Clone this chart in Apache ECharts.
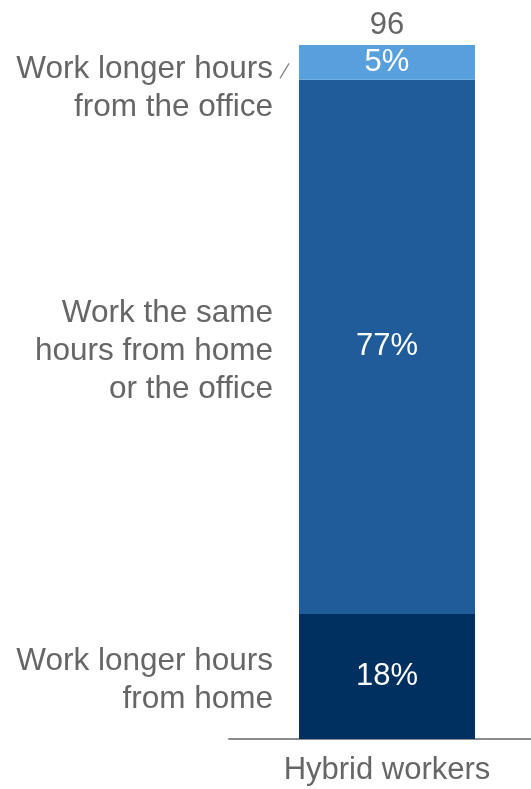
<!DOCTYPE html>
<html>
<head>
<meta charset="utf-8">
<script src="https://cdn.jsdelivr.net/npm/echarts@6/dist/echarts.min.js"></script>
<style>
  html, body { margin: 0; padding: 0; background: #fff; }
  #chart { width: 531px; height: 789px; }
</style>
</head>
<body>
<div id="chart"></div>
<script>
// Working-hours split for hybrid workers (share of respondents, %)
const categories = ['Hybrid workers'];
const sampleSizes = ['96'];
const segmentNames = [
  'Work longer hours\nfrom home',
  'Work the same\nhours from home\nor the office',
  'Work longer hours\nfrom the office'
];
const fromHome = [18];
const sameHours = [77];
const fromOffice = [5];

const segmentValues = [fromHome, sameHours, fromOffice];
const segmentColors = ['#00305f', '#1f5c99', '#579fdd'];
const FONT = "'Liberation Sans', Arial, Helvetica, sans-serif";
const GREY = '#666666';
const BAR_W = 176;
const FS = 31;

const chart = echarts.init(document.getElementById('chart'), null, { renderer: 'canvas' });

const series = [];
// visible stacked bars with the percentage inside each segment
segmentValues.forEach((vals, i) => {
  series.push({
    type: 'bar',
    name: segmentNames[i],
    stack: 'share',
    barWidth: BAR_W,
    barGap: '-100%',
    data: vals,
    itemStyle: { color: segmentColors[i], borderWidth: 0 },
    label: {
      show: true,
      position: 'inside',
      formatter: '{c}%',
      color: '#ffffff',
      fontFamily: FONT,
      fontSize: FS
    },
    silent: true
  });
});
// transparent twin stack carrying the segment names on the left
segmentValues.forEach((vals, i) => {
  series.push({
    type: 'bar',
    name: segmentNames[i] + ' ',
    stack: 'names',
    barWidth: BAR_W,
    barGap: '-100%',
    data: vals,
    itemStyle: { color: 'rgba(0,0,0,0)' },
    label: {
      show: true,
      position: 'left',
      distance: 26,
      offset: i === 2 ? [0, 26] : [0, 4],
      formatter: segmentNames[i],
      align: 'right',
      color: GREY,
      fontFamily: FONT,
      fontSize: 31.5,
      lineHeight: 38
    },
    silent: true
  });
});

chart.setOption({
  animation: false,
  backgroundColor: '#ffffff',
  grid: [
    { left: 243, right: 0, top: 45, bottom: 50, containLabel: false },
    // wider baseline running under the bar area
    { left: 229, right: 0, top: 45, bottom: 50, containLabel: false }
  ],
  xAxis: [
    {
      type: 'category',
      gridIndex: 0,
      data: categories,
      axisLine: { show: false },
      axisTick: { show: false },
      axisLabel: { color: GREY, fontFamily: FONT, fontSize: FS, margin: 16 }
    },
    {
      type: 'category',
      gridIndex: 0,
      position: 'top',
      data: sampleSizes,
      axisLine: { show: false },
      axisTick: { show: false },
      axisLabel: { color: GREY, fontFamily: FONT, fontSize: FS, margin: 4 }
    },
    {
      type: 'category',
      gridIndex: 1,
      data: categories,
      axisLine: { show: true, lineStyle: { color: '#8c8c8c', width: 2 } },
      axisTick: { show: false },
      axisLabel: { show: false }
    }
  ],
  yAxis: [
    { type: 'value', gridIndex: 0, min: 0, max: 100, show: false },
    { type: 'value', gridIndex: 1, min: 0, max: 100, show: false }
  ],
  series: series
});

// short leader stroke beside the top segment's name
const topMid = chart.convertToPixel({ xAxisIndex: 0, yAxisIndex: 0 },
  [0, fromHome[0] + sameHours[0] + fromOffice[0] / 2]);
const barLeft = topMid[0] - BAR_W / 2;
chart.setOption({
  graphic: [{
    type: 'line',
    shape: { x1: barLeft - 19, y1: topMid[1] + 16, x2: barLeft - 10, y2: topMid[1] + 1 },
    style: { stroke: '#7f7f7f', lineWidth: 1.2 }
  }]
});
</script>
</body>
</html>
